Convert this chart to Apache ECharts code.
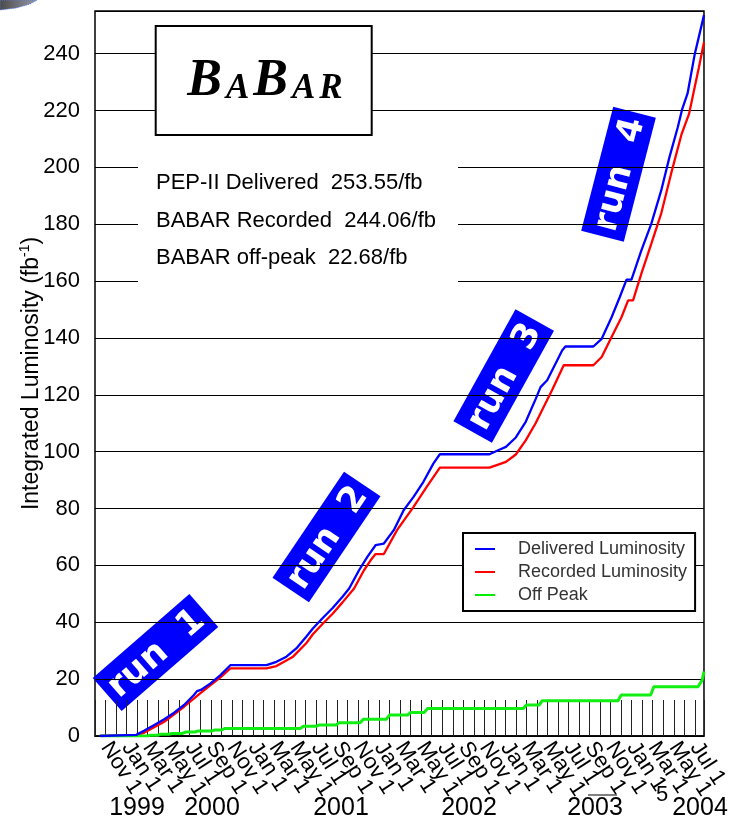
<!DOCTYPE html>
<html><head><meta charset="utf-8">
<script src="https://cdn.jsdelivr.net/npm/echarts@6/dist/echarts.min.js"></script>
<style>html,body{margin:0;padding:0;background:#fff}#c{width:731px;height:819px}</style>
</head><body><div id="c"></div>
<script>
// x values are month positions: 0 = Nov 1 1999, 1 = Dec 1 1999, ...
const monthTickLabels = ['Nov 1','Jan 1','Mar 1','May 1','Jul 1','Sep 1','Nov 1','Jan 1','Mar 1','May 1','Jul 1','Sep 1','Nov 1','Jan 1','Mar 1','May 1','Jul 1','Sep 1','Nov 1','Jan 1','Mar 1','May 1','Jul 1','Sep 1','Nov 1','Jan 1','Mar 1','May 1','Jul 1'];
const yearLabels = ['1999','2000','2001','2002','2003','2004'];
const seriesNames = ['Delivered Luminosity','Recorded Luminosity','Off Peak'];
const summaryLines = ['PEP-II Delivered  253.55/fb','BABAR Recorded  244.06/fb','BABAR off-peak  22.68/fb'];
const runLabels = ['run  1','run  2','run  3','run  4'];

const delivered = [[-0.54,0],[2.92,0.4],[3.70,1.9],[4.64,3.9],[5.58,5.9],[6.52,8.2],[7.46,10.9],[8.40,14.4],[8.69,15.8],[9.06,16.2],[9.98,18.5],[10.92,21.4],[11.86,24.9],[15.30,24.9],[16.24,26.1],[17.19,27.9],[18.13,30.8],[19.07,34.9],[19.70,37.8],[20.64,41.5],[21.58,45.0],[22.52,49.0],[23.15,51.9],[24.09,58.3],[24.88,63.0],[25.66,67.1],[26.45,67.7],[27.39,72.4],[28.33,79.4],[29.27,84.1],[30.21,89.4],[31.15,95.8],[31.77,99.1],[36.48,99.1],[37.42,100.7],[38.05,101.7],[38.99,105.0],[39.93,110.5],[40.87,118.5],[41.34,122.7],[41.97,125.1],[43.39,135.6],[43.70,137.0],[46.36,137.0],[47.15,139.7],[48.09,147.3],[48.87,154.4],[49.51,160.5],[49.98,160.5],[50.92,170.8],[51.86,180.1],[52.80,191.8],[53.59,203.6],[54.38,214.1],[54.80,220.5],[55.31,226.0],[56.00,240.0],[56.87,253.55]];
const recorded = [[-0.54,0],[2.92,0.3],[3.70,1.2],[5.58,5.0],[7.46,10.3],[9.05,15.2],[10.92,20.6],[11.86,23.8],[15.30,23.8],[16.24,24.6],[17.82,27.9],[19.07,32.6],[19.70,35.8],[20.64,39.5],[21.58,43.0],[22.52,47.0],[23.62,51.9],[24.56,58.3],[25.19,61.8],[25.66,64.0],[26.45,64.0],[27.70,72.4],[29.27,80.6],[30.52,87.6],[31.77,94.4],[36.48,94.4],[37.11,95.2],[38.05,96.4],[38.99,99.0],[39.93,104.0],[40.87,110.0],[41.81,117.0],[42.45,121.8],[43.54,130.4],[46.36,130.4],[47.15,133.3],[48.09,140.3],[49.03,147.3],[49.66,153.2],[50.13,153.2],[50.92,162.6],[51.86,173.1],[52.80,183.7],[53.74,197.7],[54.75,211.8],[55.45,218.8],[55.92,227.0],[56.39,235.2],[56.87,244.06]];
const offPeak = [[-0.54,0],[4.0,0],[4.3,0.3],[5.0,0.3],[5.2,0.6],[6.0,0.6],[6.3,0.9],[7.3,0.9],[7.6,1.4],[8.5,1.4],[8.8,1.8],[10.1,1.8],[10.4,2.1],[11.0,2.1],[11.3,2.6],[18.5,2.6],[18.8,3.4],[20.0,3.4],[20.3,3.9],[21.9,3.9],[22.2,4.7],[24.2,4.7],[24.5,5.9],[26.7,5.9],[27.0,7.4],[28.7,7.4],[29.0,8.3],[30.3,8.3],[30.6,9.7],[39.7,9.7],[40.0,10.9],[41.2,10.9],[41.5,12.4],[48.7,12.4],[49.0,14.4],[51.8,14.4],[52.1,17.3],[56.3,17.3],[56.7,19.7],[56.87,22.68]];

const SANS = '"Liberation Sans", Arial, sans-serif';
const SERIF = '"Liberation Serif", "Times New Roman", serif';

function runBox(text, cx, cy, deg) {
  return {
    type: 'group', x: cx, y: cy, rotation: deg * Math.PI / 180, z: 120,
    children: [
      { type: 'rect', shape: { x: -64, y: -22, width: 128, height: 44 }, style: { fill: '#0000ff' } },
      { type: 'text', style: { text: text, x: 0, y: 2, align: 'center', verticalAlign: 'middle', fill: '#ffffff', fontSize: 35, fontWeight: 'bold', fontFamily: '"DejaVu Sans", Verdana, sans-serif' } }
    ]
  };
}

const yearPos = [137, 212, 341, 469, 595, 700];
const graphics = [
  { type: 'polygon', shape: { points: [[0,0],[37,0],[30,4],[16,8],[0,10]] }, style: { fill: new echarts.graphic.LinearGradient(0,0,1,0,[{offset:0,color:'#4a4a4a'},{offset:1,color:'#9a9aa8'}]), stroke: '#5577dd', lineWidth: 1, lineDash: [1,1] }, z: 100 },
  { type: 'rect', shape: { x: 155.7, y: 26, width: 216, height: 109 }, style: { fill: '#fff', stroke: '#000', lineWidth: 2 }, z: 100 },
  { type: 'text', z: 101, style: { x: 265, y: 82, align: 'center', verticalAlign: 'middle',
      text: '{b|B}{s|A}{b|B}{s|A}{s|R}',
      rich: {
        b: { fontSize: 52, lineHeight: 52, fontFamily: SERIF, fontWeight: 'bold', fontStyle: 'italic', fill: '#000', verticalAlign: 'bottom', padding: [0,2,0,2] },
        s: { fontSize: 35, lineHeight: 35, fontFamily: SERIF, fontWeight: 'bold', fontStyle: 'italic', fill: '#000', verticalAlign: 'bottom', padding: [0,2,2,2] }
      } } },
  { type: 'rect', shape: { x: 138, y: 145, width: 320, height: 150 }, style: { fill: '#fff' }, z: 99 },
  runBox(runLabels[0], 155.5, 652.5, 41),
  runBox(runLabels[1], 326.5, 537, 56),
  runBox(runLabels[2], 503.7, 376, 61),
  runBox(runLabels[3], 618.5, 174.2, 75.5),
  { type: 'text', z: 101, style: { x: 662, y: 795, text: '5', align: 'center', verticalAlign: 'middle', fontSize: 22, fontFamily: SANS, fill: '#000' } },
  { type: 'line', z: 101, shape: { x1: 588, y1: 795, x2: 617, y2: 795 }, style: { stroke: '#000', lineWidth: 1 } }
];
summaryLines.forEach((t, i) => graphics.push({ type: 'text', z: 101, style: { x: 156, y: [183, 221, 258][i], text: t, align: 'left', verticalAlign: 'middle', fontSize: 22, fontFamily: SANS, fill: '#000' } }));
yearLabels.forEach((t, i) => graphics.push({ type: 'text', z: 101, style: { x: yearPos[i], y: 808, text: t, align: 'center', verticalAlign: 'middle', fontSize: 25, fontFamily: SANS, fill: '#000' } }));

const chart = echarts.init(document.getElementById('c'), null, { renderer: 'canvas' });
chart.setOption({
  animation: false,
  backgroundColor: '#fff',
  grid: { left: 95, right: 21, top: 11, bottom: 83, show: true, borderColor: '#000', borderWidth: 1.5, backgroundColor: 'transparent' },
  legend: {
    data: seriesNames, orient: 'vertical', left: 463, top: 533,
    backgroundColor: '#fff', borderColor: '#000', borderWidth: 2, borderRadius: 0,
    padding: [7, 8, 7, 12], itemGap: 5, itemWidth: 20, itemHeight: 2, icon: 'rect',
    textStyle: { fontSize: 18, color: '#333', fontFamily: SANS, padding: [0,0,0,18], lineHeight: 16 },
    selectedMode: false
  },
  xAxis: {
    type: 'value', min: -1, max: 56.87, interval: 1,
    axisLine: { show: true, lineStyle: { color: '#000', width: 1.5 } },
    axisTick: { show: true, inside: true, length: 36, lineStyle: { color: '#222', width: 1 } },
    splitLine: { show: false },
    axisLabel: {
      rotate: -57, margin: 8, fontSize: 22, fontFamily: SANS, color: '#000',
      formatter: v => (Number.isInteger(v) && v >= 0 && v % 2 === 0 && monthTickLabels[v / 2]) ? monthTickLabels[v / 2] : ''
    }
  },
  yAxis: {
    type: 'value', min: 0, max: 255, interval: 20,
    name: '{n|Integrated Luminosity (fb}{s|-1}{n|)}', nameLocation: 'middle', nameGap: 50, nameMoveOverlap: false,
    nameTextStyle: { rich: { n: { fontSize: 23, fontFamily: SANS, color: '#000' }, s: { fontSize: 14, fontFamily: SANS, color: '#000', padding: [0,0,13,0] } } },
    axisLine: { show: false }, axisTick: { show: false },
    splitLine: { show: true, lineStyle: { color: '#000', width: 1.2 } },
    axisLabel: { margin: 15, fontSize: 22, fontFamily: SANS, color: '#000', formatter: v => (v % 20 === 0 ? String(v) : '') }
  },
  graphic: graphics,
  series: [
    { name: seriesNames[1], type: 'line', data: recorded, symbol: 'none', color: '#ff0000', lineStyle: { color: '#ff0000', width: 2.3 }, z: 3 },
    { name: seriesNames[0], type: 'line', data: delivered, symbol: 'none', color: '#0000ff', lineStyle: { color: '#0000ff', width: 2.3 }, z: 4 },
    { name: seriesNames[2], type: 'line', data: offPeak, symbol: 'none', color: '#00ee00', lineStyle: { color: '#11ee11', width: 3 }, z: 3 }
  ]
});
</script></body></html>
